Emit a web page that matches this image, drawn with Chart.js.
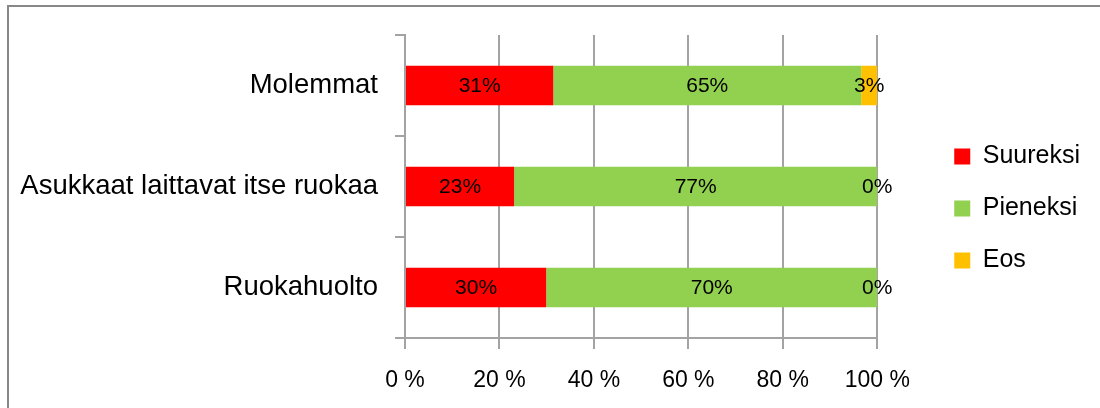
<!DOCTYPE html>
<html>
<head>
<meta charset="utf-8">
<script src="https://cdn.jsdelivr.net/npm/chart.js@4/dist/chart.umd.min.js"></script>
<style>
  html, body { margin: 0; padding: 0; background: #fff; }
  #wrap { width: 1100px; height: 408px; }
</style>
</head>
<body>
<div id="wrap"><canvas id="chart"></canvas></div>
<script>
const categories = ['Molemmat', 'Asukkaat laittavat itse ruokaa', 'Ruokahuolto']
const suureksi = [31.4, 23.1, 29.9]
const pieneksi = [65.2, 76.9, 70.1]
const eos = [3.4, 0, 0]
const xticks = [0, 20, 40, 60, 80, 100]

const gridcolor = '#a3a3a3'
const font = 'Liberation Sans'

// frame round the whole chart, like the excel chart area
const framePlugin = {
  id: 'frame',
  beforeDraw(chart) {
    let ctx = chart.ctx
    ctx.save()
    ctx.fillStyle = '#fff'
    ctx.fillRect(0, 0, chart.width, chart.height)
    ctx.strokeStyle = '#888'
    ctx.lineWidth = 2
    ctx.strokeRect(8, 6, chart.width + 20, chart.height + 20)
    ctx.restore()
  }
}

// percentage text in the middle of each segment
const labelPlugin = {
  id: 'segmentlabels',
  afterDatasetsDraw(chart) {
    let ctx = chart.ctx
    ctx.save()
    ctx.font = '21px "' + font + '"'
    ctx.fillStyle = '#000'
    ctx.textAlign = 'center'
    ctx.textBaseline = 'middle'
    chart.data.datasets.forEach((ds, i) => {
      chart.getDatasetMeta(i).data.forEach((el, j) => {
        let x = (el.x + el.base) / 2
        ctx.fillText(Math.round(ds.data[j]) + '%', x, el.y + 1)
      })
    })
    ctx.restore()
  }
}

// empty axes, only used to leave space round the plot area
const spacer = (position, size) => ({
  type: 'linear',
  position: position,
  display: true,
  grid: { display: false },
  border: { display: false },
  ticks: { display: false },
  afterFit(s) {
    if (s.isHorizontal()) s.height = size
    else s.width = size
  }
})

const config = {
  type: 'bar',
  data: {
    labels: categories,
    datasets: [
      { label: 'Suureksi', data: suureksi, backgroundColor: '#ff0000' },
      { label: 'Pieneksi', data: pieneksi, backgroundColor: '#92d050' },
      { label: 'Eos', data: eos, backgroundColor: '#ffc000' }
    ]
  },
  options: {
    indexAxis: 'y',
    responsive: true,
    maintainAspectRatio: false,
    animation: false,
    barPercentage: 0.39,
    categoryPercentage: 1,
    layout: { padding: { top: 25, bottom: 16, left: 0, right: 10 } },
    scales: {
      x: {
        stacked: true,
        min: 0,
        max: 100,
        afterBuildTicks(s) { s.ticks = xticks.map(v => ({ value: v })) },
        ticks: {
          callback: v => v + ' %',
          color: '#000',
          font: { family: font, size: 23 },
          padding: 18,
          maxRotation: 0
        },
        grid: { color: gridcolor, lineWidth: 2, tickLength: 11 },
        border: { color: gridcolor, width: 2 },
        afterFit(s) { s.height = 54 }
      },
      y: {
        stacked: true,
        ticks: {
          color: '#000',
          font: { family: font, size: 27.5 },
          padding: 17
        },
        grid: { drawOnChartArea: false, color: gridcolor, lineWidth: 2, tickLength: 10 },
        border: { color: gridcolor, width: 2 },
        afterFit(s) { s.width = 405 }
      },
      gapright: spacer('right', 50),
      gaptop: spacer('top', 10)
    },
    plugins: {
      legend: {
        position: 'right',
        labels: {
          boxWidth: 16,
          boxHeight: 16,
          padding: 27,
          color: '#000',
          font: { family: font, size: 25 }
        }
      },
      tooltip: { enabled: false },
      title: { display: false }
    }
  },
  plugins: [framePlugin, labelPlugin]
}

new Chart(document.getElementById('chart'), config)
</script>
</body>
</html>
